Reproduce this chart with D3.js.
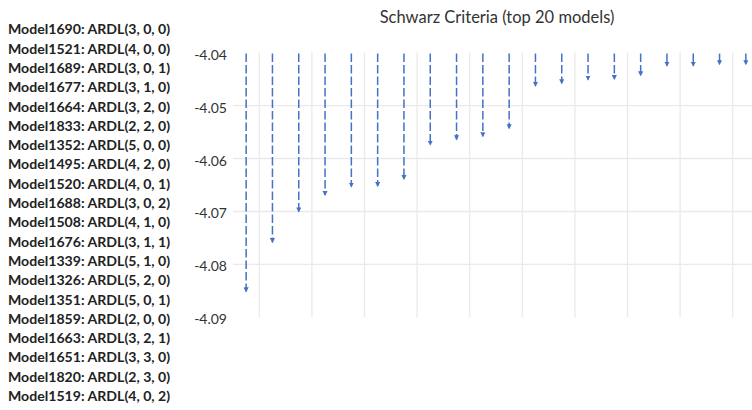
<!DOCTYPE html>
<html>
<head>
<meta charset="utf-8">
<script src="https://cdn.jsdelivr.net/npm/d3@7"></script>
<style>
  body { margin: 0; background: #fff; }
  svg { display: block; font-family: Lato, "Noto Sans", sans-serif; }
</style>
</head>
<body>
<div id="chart"></div>
<script>
// model names, best first
const models = [
    "Model1690: ARDL(3, 0, 0)", "Model1521: ARDL(4, 0, 0)", "Model1689: ARDL(3, 0, 1)",
    "Model1677: ARDL(3, 1, 0)", "Model1664: ARDL(3, 2, 0)", "Model1833: ARDL(2, 2, 0)",
    "Model1352: ARDL(5, 0, 0)", "Model1495: ARDL(4, 2, 0)", "Model1520: ARDL(4, 0, 1)",
    "Model1688: ARDL(3, 0, 2)", "Model1508: ARDL(4, 1, 0)", "Model1676: ARDL(3, 1, 1)",
    "Model1339: ARDL(5, 1, 0)", "Model1326: ARDL(5, 2, 0)", "Model1351: ARDL(5, 0, 1)",
    "Model1859: ARDL(2, 0, 0)", "Model1663: ARDL(3, 2, 1)", "Model1651: ARDL(3, 3, 0)",
    "Model1820: ARDL(2, 3, 0)", "Model1519: ARDL(4, 0, 2)"
];

// Schwarz criterion per model
const schwarz = [
    -4.0851, -4.0758, -4.0700, -4.0669, -4.0653, -4.0652, -4.0639, -4.0574, -4.0564, -4.0558,
    -4.0543, -4.0463, -4.0458, -4.0451, -4.0450, -4.0443, -4.0425, -4.0425, -4.0422, -4.0422
];

const yTicks = [-4.04, -4.05, -4.06, -4.07, -4.08, -4.09];
const title = "Schwarz Criteria (top 20 models)";

const width = 752, height = 410;
const blue = "#4472C4";

const svg = d3.select("#chart").append("svg")
    .attr("width", width)
    .attr("height", height);

// plot area
const x = d3.scaleLinear().domain([-0.5, 19.5]).range([233, 759]);
const y = d3.scaleLinear().domain([-4.09, -4.04]).range([317.4, 52.6]);

// arrow head
svg.append("defs").append("marker")
    .attr("id", "arrow")
    .attr("viewBox", "0 0 10 10")
    .attr("refX", 8).attr("refY", 5)
    .attr("markerWidth", 3.4).attr("markerHeight", 3.4)
    .attr("orient", "auto")
    .append("path")
    .attr("d", "M0,0 L10,5 L0,10 z")
    .attr("fill", blue);

// title
svg.append("text")
    .attr("x", 497).attr("y", 23)
    .attr("text-anchor", "middle")
    .style("font-size", "16.5px")
    .style("fill", "#333")
    .text(title);

// model list on the left
svg.append("g").selectAll("text")
    .data(models)
    .join("text")
    .attr("x", 8)
    .attr("y", (d, i) => 29.3 + 19.3 * i + 5)
    .style("font-size", "14.1px")
    .style("font-weight", "bold")
    .style("fill", "#222")
    .text(d => d);

// grid
const grid = svg.append("g").attr("class", "grid");
grid.selectAll(".hgrid")
    .data(yTicks.filter(t => t < -4.0405 && t > -4.0895))
    .join("line")
    .attr("class", "hgrid")
    .attr("x1", x(-0.5)).attr("x2", width)
    .attr("y1", d => y(d)).attr("y2", d => y(d))
    .attr("stroke", "#eaeaea")
    .attr("stroke-width", 1.3);

grid.selectAll(".vgrid")
    .data(d3.range(0.5, 19.5, 2))
    .join("line")
    .attr("class", "vgrid")
    .attr("x1", d => x(d)).attr("x2", d => x(d))
    .attr("y1", y(-4.04)).attr("y2", y(-4.09))
    .attr("stroke", "#eaeaea")
    .attr("stroke-width", 1.3);

// y tick labels
svg.append("g").selectAll("text")
    .data(yTicks)
    .join("text")
    .attr("x", 227)
    .attr("y", d => y(d) + 7)
    .attr("text-anchor", "end")
    .style("font-size", "14px")
    .style("fill", "#333")
    .text(d => d.toFixed(2));

// drop lines from the top of the plot down to each value
svg.append("g").selectAll("line")
    .data(schwarz)
    .join("line")
    .attr("x1", (d, i) => x(i)).attr("x2", (d, i) => x(i))
    .attr("y1", y(-4.04) + 1)
    .attr("y2", d => y(d))
    .attr("stroke", blue)
    .attr("stroke-width", 1.5)
    .attr("stroke-dasharray", "8.5,3")
    .attr("marker-end", "url(#arrow)");
</script>
</body>
</html>
